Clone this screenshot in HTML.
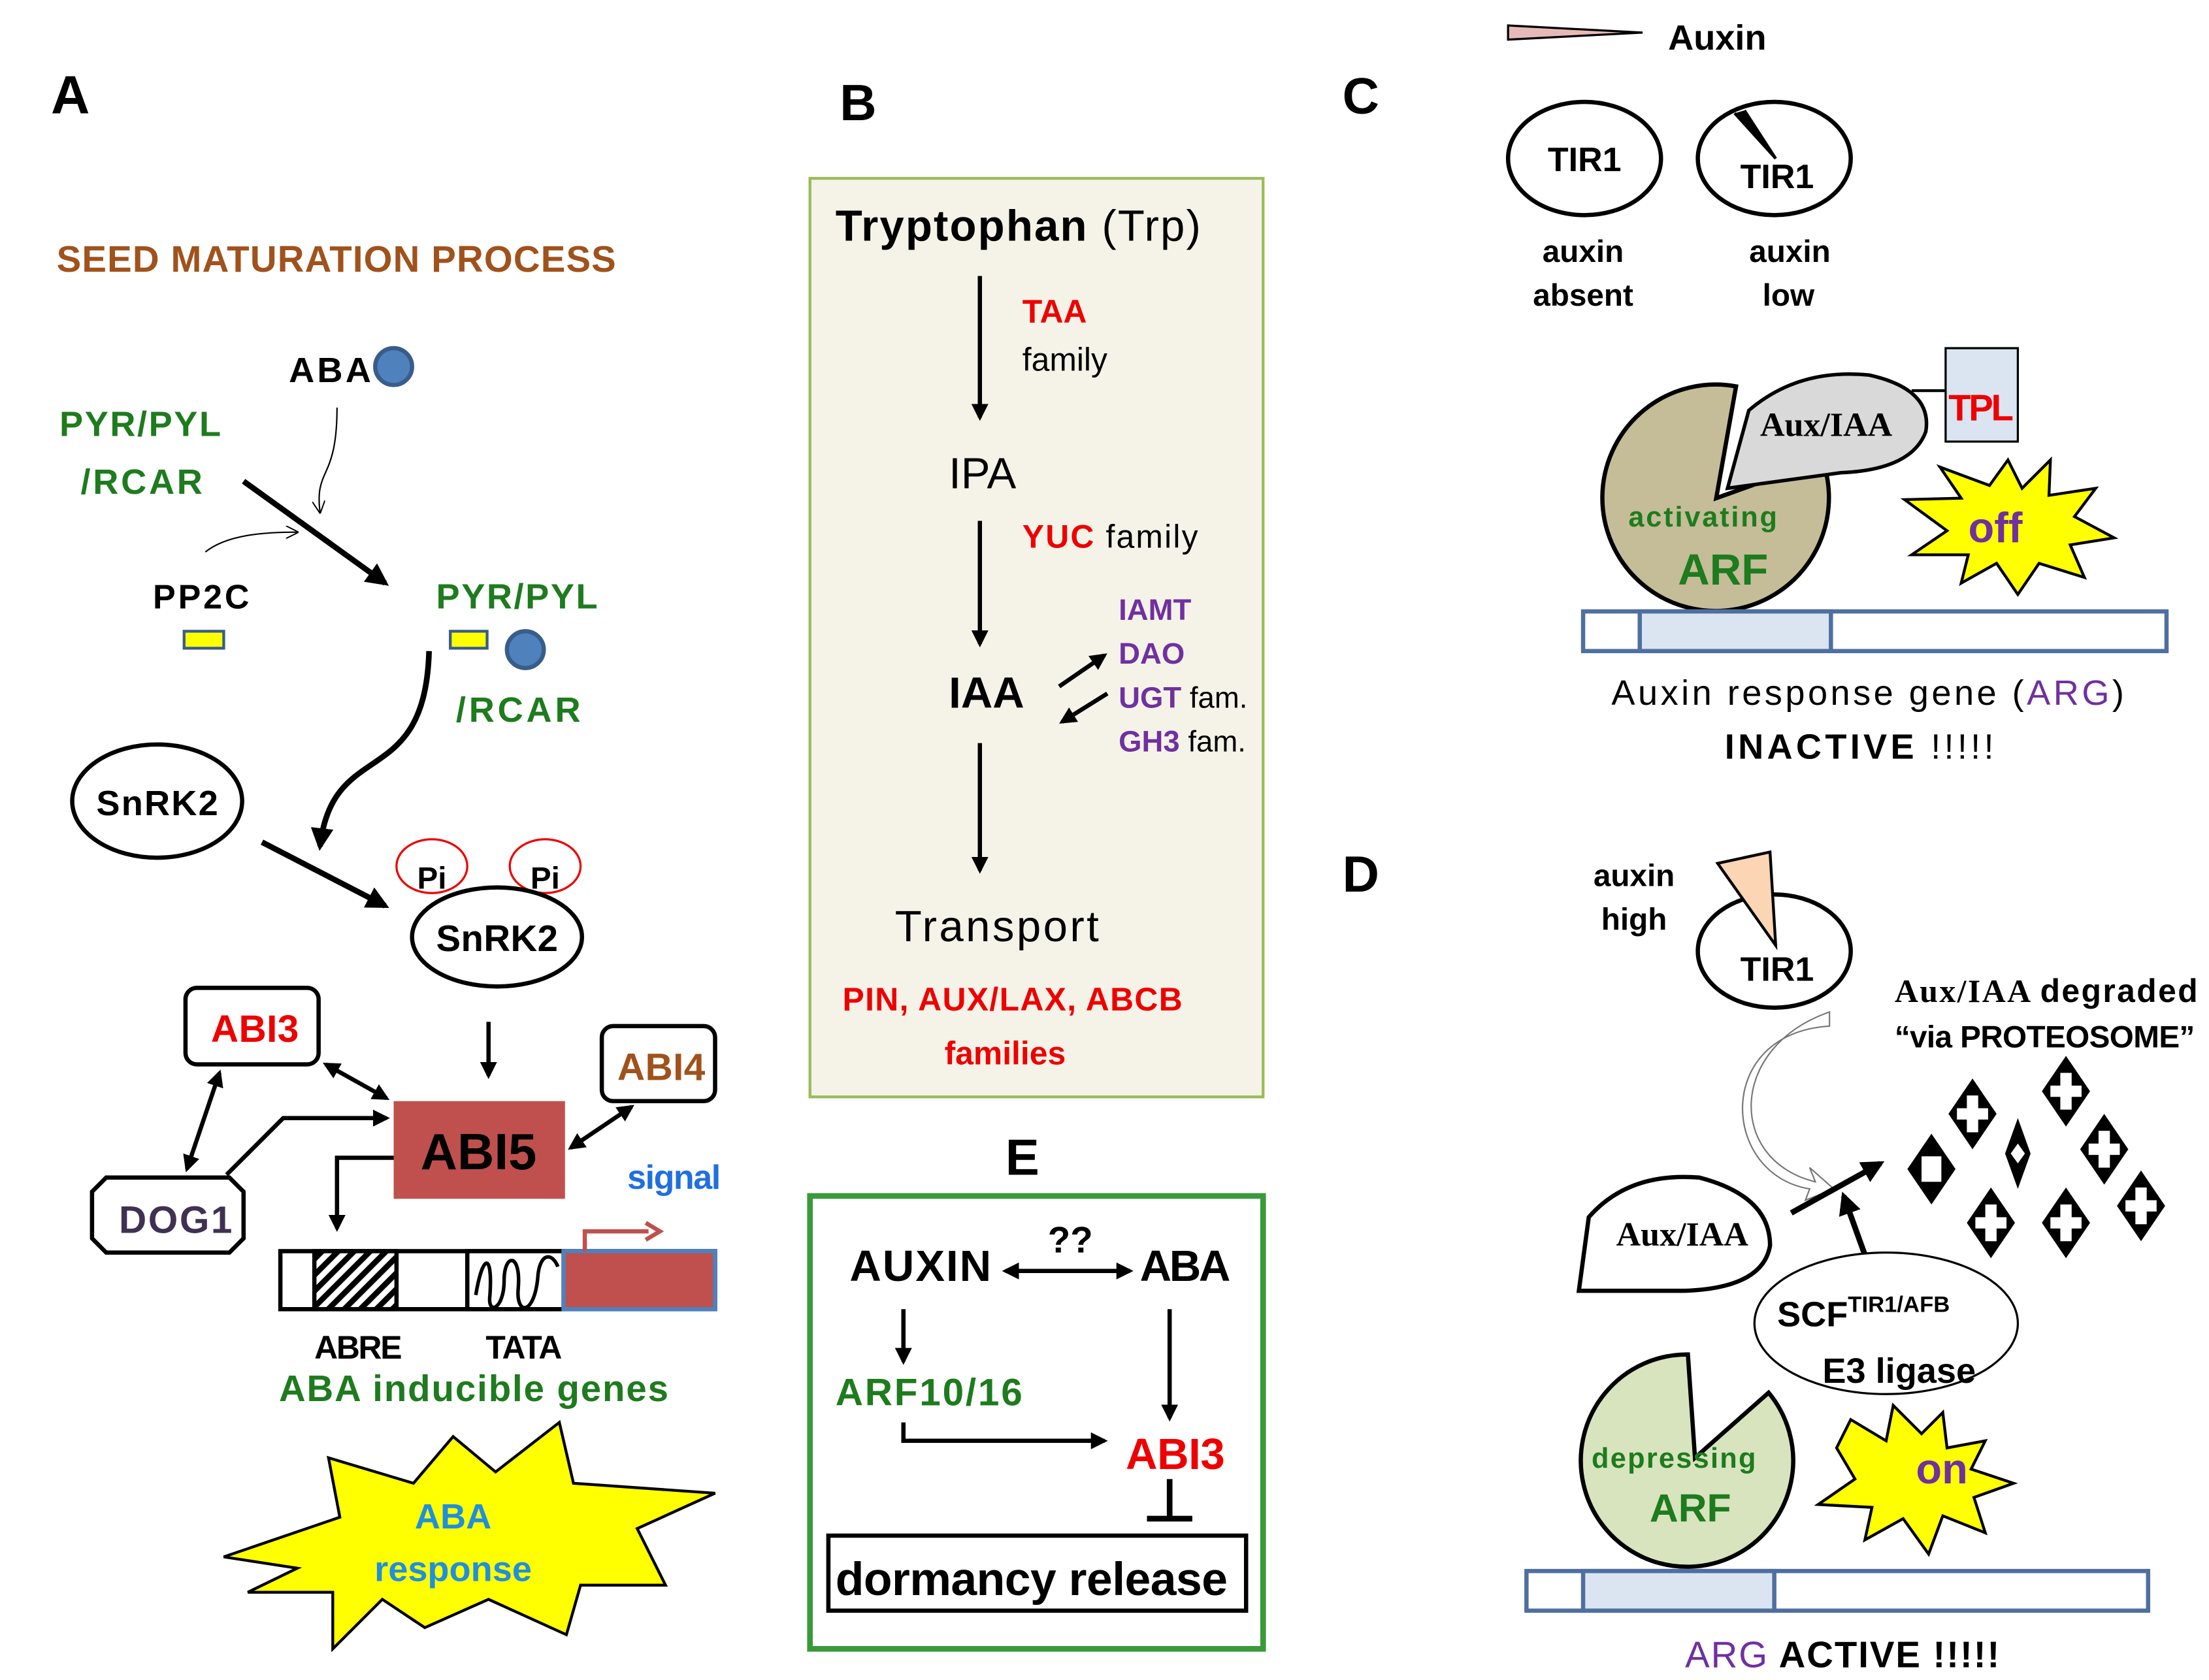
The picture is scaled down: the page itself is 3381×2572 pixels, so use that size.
<!DOCTYPE html>
<html><head><meta charset="utf-8"><style>
html,body{margin:0;padding:0;background:#fff}
svg{display:block}
text{font-family:"Liberation Sans",sans-serif}
.s{font-family:"Liberation Serif",serif;font-weight:bold}
.b{font-weight:bold}
</style></head><body>
<svg width="3381" height="2572" viewBox="0 0 1560 1187" preserveAspectRatio="none" xmlns="http://www.w3.org/2000/svg">
<defs>
<marker id="ah" viewBox="0 0 10 10" refX="8" refY="5" markerWidth="4" markerHeight="4" orient="auto-start-reverse"><path d="M0,0L10,5L0,10Z" fill="#000"/></marker>
<marker id="ao" viewBox="0 0 10 10" refX="9" refY="5" markerWidth="9" markerHeight="9" orient="auto"><path d="M0,0L10,5L0,10" fill="none" stroke="#000" stroke-width="1"/></marker>
<g id="dm"><path d="M0,-25L17,0L0,25L-17,0Z" fill="#000"/><path d="M-4,-13H4V-4H11V4H4V13H-4V4H-11V-4H-4Z" fill="#fff"/></g>
<pattern id="hat" width="8" height="8" patternUnits="userSpaceOnUse" patternTransform="rotate(45)"><rect width="8" height="8" fill="#fff"/><rect width="4" height="8" fill="#000"/></pattern>
</defs>
<rect width="1560" height="1187" fill="#fff"/>

<!-- Panel A -->
<text x="36" y="80" font-size="38" font-weight="bold">A</text>
<text x="40" y="192" font-size="26" font-weight="bold" fill="#a0521c" textLength="395">SEED MATURATION PROCESS</text>
<text x="204" y="270" font-size="25" class="b" textLength="58">ABA</text>
<circle cx="278" cy="259" r="13" fill="#4f81bd" stroke="#385d8a" stroke-width="3"/>
<text x="42" y="308" font-size="25" fill="#1e7b1e" class="b" textLength="114">PYR/PYL</text>
<text x="57" y="349" font-size="25" fill="#1e7b1e" class="b" textLength="86">/RCAR</text>
<path d="M238,288 C238,340 222,330 226,362" fill="none" stroke="#000" stroke-width="1" marker-end="url(#ao)"/>
<path d="M145,390 C160,378 185,376 210,376" fill="none" stroke="#000" stroke-width="1" marker-end="url(#ao)"/>
<line x1="172" y1="340" x2="272" y2="412" stroke="#000" stroke-width="4" marker-end="url(#ah)"/>
<text x="108" y="430" font-size="24" class="b" textLength="68">PP2C</text>
<rect x="130" y="446" width="28" height="12" fill="#ffff00" stroke="#385d8a" stroke-width="2"/>
<text x="308" y="430" font-size="25" fill="#1e7b1e" class="b" textLength="114">PYR/PYL</text>
<rect x="318" y="446" width="26" height="12" fill="#ffff00" stroke="#385d8a" stroke-width="2"/>
<circle cx="371" cy="459" r="13" fill="#4f81bd" stroke="#385d8a" stroke-width="3"/>
<text x="322" y="510" font-size="25" fill="#1e7b1e" class="b" textLength="88">/RCAR</text>
<path d="M303,460 C300,560 235,520 226,598" fill="none" stroke="#000" stroke-width="4" marker-end="url(#ah)"/>
<ellipse cx="111" cy="566" rx="60" ry="40" fill="#fff" stroke="#000" stroke-width="3"/>
<text x="111" y="576" font-size="25" text-anchor="middle" class="b" textLength="86">SnRK2</text>
<line x1="185" y1="595" x2="272" y2="640" stroke="#000" stroke-width="4" marker-end="url(#ah)"/>
<ellipse cx="305" cy="612" rx="25" ry="19" fill="none" stroke="#e00" stroke-width="1.5"/>
<ellipse cx="385" cy="612" rx="25" ry="19" fill="none" stroke="#e00" stroke-width="1.5"/>
<text x="305" y="628" font-size="22" text-anchor="middle" class="b">Pi</text>
<text x="385" y="628" font-size="22" text-anchor="middle" class="b">Pi</text>
<ellipse cx="351" cy="662" rx="60" ry="35" fill="#fff" stroke="#000" stroke-width="3"/>
<text x="351" y="672" font-size="26" text-anchor="middle" class="b" textLength="86">SnRK2</text>
<line x1="345" y1="722" x2="345" y2="760" stroke="#000" stroke-width="3" marker-end="url(#ah)"/>
<rect x="131" y="698" width="94" height="54" rx="8" fill="#fff" stroke="#000" stroke-width="3"/>
<text x="180" y="736" font-size="27" fill="#e00" text-anchor="middle" class="b" textLength="62">ABI3</text>
<rect x="425" y="725" width="80" height="53" rx="8" fill="#fff" stroke="#000" stroke-width="3"/>
<text x="467" y="763" font-size="27" fill="#a0521c" text-anchor="middle" class="b" textLength="62">ABI4</text>
<rect x="278" y="778" width="121" height="69" fill="#c0504d"/>
<text x="338" y="826" font-size="36" text-anchor="middle" class="b" textLength="82">ABI5</text>
<path d="M75,832 H162 L172,842 V875 L162,885 H75 L65,875 V842 Z" fill="#fff" stroke="#000" stroke-width="3"/>
<text x="124" y="871" font-size="27" fill="#403152" text-anchor="middle" class="b" textLength="80">DOG1</text>
<line x1="230" y1="752" x2="273" y2="776" stroke="#000" stroke-width="3" marker-start="url(#ah)" marker-end="url(#ah)"/>
<line x1="155" y1="758" x2="132" y2="826" stroke="#000" stroke-width="3" marker-start="url(#ah)" marker-end="url(#ah)"/>
<path d="M160,830 L200,790 H273" fill="none" stroke="#000" stroke-width="3" marker-end="url(#ah)"/>
<line x1="446" y1="782" x2="403" y2="811" stroke="#000" stroke-width="3" marker-start="url(#ah)" marker-end="url(#ah)"/>
<path d="M278,818 H238 V868" fill="none" stroke="#000" stroke-width="3" marker-end="url(#ah)"/>
<text x="443" y="840" font-size="24" fill="#1f6fe0" class="b" textLength="66">signal</text>
<rect x="198" y="884" width="307" height="41" fill="#fff" stroke="#000" stroke-width="3"/>
<rect x="222" y="884" width="58" height="41" fill="url(#hat)" stroke="#000" stroke-width="3"/>
<rect x="330" y="884" width="68" height="41" fill="#fff" stroke="#000" stroke-width="3"/>
<path d="M336,915 c5,-30 12,-30 10,0 c-2,15 10,10 10,-10 c0,-20 12,-20 10,5 c-2,20 12,20 14,-10 c2,-15 10,-15 14,-5" fill="none" stroke="#000" stroke-width="2.5"/>
<rect x="398" y="884" width="107" height="41" fill="#c0504d" stroke="#4f81bd" stroke-width="3"/>
<path d="M413,884 V870 H458" fill="none" stroke="#c0504d" stroke-width="3"/>
<path d="M456,864 L466,870 L456,876" fill="none" stroke="#c0504d" stroke-width="3"/>
<text x="222" y="960" font-size="23" class="b" textLength="62">ABRE</text>
<text x="343" y="960" font-size="23" class="b" textLength="54">TATA</text>
<text x="197" y="990" font-size="26" fill="#1e7b1e" class="b" textLength="275">ABA inducible genes</text>
<polygon points="158,1100 240,1072 232,1030 292,1048 320,1015 350,1040 395,1005 405,1048 505,1055 450,1080 470,1120 410,1120 400,1155 345,1130 300,1150 270,1130 235,1165 235,1125 175,1125 210,1108" fill="#ffff00" stroke="#000" stroke-width="2"/>
<text x="320" y="1080" font-size="25" fill="#1f8fdf" text-anchor="middle" class="b">ABA</text>
<text x="320" y="1117" font-size="25" fill="#1f8fdf" text-anchor="middle" class="b">response</text>

<!-- Panel B -->
<text x="593" y="85" font-size="36" font-weight="bold">B</text>
<rect x="572" y="126" width="320" height="649" fill="#f5f3e8" stroke="#9bbb59" stroke-width="2"/>
<text x="590" y="170" font-size="31" textLength="258"><tspan font-weight="bold">Tryptophan</tspan> (Trp)</text>
<line x1="692" y1="195" x2="692" y2="295" stroke="#000" stroke-width="3" marker-end="url(#ah)"/>
<text x="722" y="228" font-size="23" fill="#e00" class="b">TAA</text>
<text x="722" y="262" font-size="23">family</text>
<text x="670" y="345" font-size="31">IPA</text>
<line x1="692" y1="368" x2="692" y2="455" stroke="#000" stroke-width="3" marker-end="url(#ah)"/>
<text x="722" y="387" font-size="23" textLength="124"><tspan fill="#e00" font-weight="bold">YUC</tspan> family</text>
<text x="670" y="500" font-size="31" font-weight="bold">IAA</text>
<line x1="748" y1="485" x2="780" y2="463" stroke="#000" stroke-width="3" marker-end="url(#ah)"/>
<line x1="782" y1="490" x2="750" y2="510" stroke="#000" stroke-width="3" marker-end="url(#ah)"/>
<text x="790" y="438" font-size="21" fill="#7030a0" class="b">IAMT</text>
<text x="790" y="469" font-size="21" fill="#7030a0" class="b">DAO</text>
<text x="790" y="500" font-size="21" fill="#7030a0" class="b">UGT <tspan fill="#000" font-weight="normal">fam.</tspan></text>
<text x="790" y="531" font-size="21" fill="#7030a0" class="b">GH3 <tspan fill="#000" font-weight="normal">fam.</tspan></text>
<line x1="692" y1="525" x2="692" y2="615" stroke="#000" stroke-width="3" marker-end="url(#ah)"/>
<text x="632" y="665" font-size="31" textLength="144">Transport</text>
<text x="595" y="714" font-size="23" fill="#e00" font-weight="bold" textLength="240">PIN, AUX/LAX, ABCB</text>
<text x="667" y="752" font-size="23" fill="#e00" font-weight="bold">families</text>

<!-- Panel E -->
<text x="710" y="830" font-size="36" font-weight="bold">E</text>
<rect x="572" y="845" width="320" height="320" fill="#fff" stroke="#3a9a3a" stroke-width="4"/>
<text x="600" y="905" font-size="31" class="b" textLength="100">AUXIN</text>
<text x="805" y="905" font-size="31" class="b" textLength="64">ABA</text>
<text x="740" y="885" font-size="26" font-weight="bold">??</text>
<line x1="710" y1="898" x2="798" y2="898" stroke="#000" stroke-width="3" marker-start="url(#ah)" marker-end="url(#ah)"/>
<line x1="638" y1="925" x2="638" y2="962" stroke="#000" stroke-width="3" marker-end="url(#ah)"/>
<text x="590" y="993" font-size="27" fill="#1e7b1e" class="b" textLength="132">ARF10/16</text>
<path d="M638,1005 V1018 H780" fill="none" stroke="#000" stroke-width="3" marker-end="url(#ah)"/>
<line x1="826" y1="925" x2="826" y2="1002" stroke="#000" stroke-width="3" marker-end="url(#ah)"/>
<text x="795" y="1038" font-size="31" fill="#e00" class="b" textLength="70">ABI3</text>
<line x1="826" y1="1045" x2="826" y2="1073" stroke="#000" stroke-width="4"/>
<line x1="810" y1="1073" x2="842" y2="1073" stroke="#000" stroke-width="4"/>
<rect x="585" y="1085" width="295" height="53" fill="#fff" stroke="#000" stroke-width="3"/>
<text x="590" y="1127" font-size="33" class="b" textLength="277">dormancy release</text>

<!-- Panel C -->
<text x="948" y="80" font-size="36" font-weight="bold">C</text>
<polygon points="1065,18 1065,28 1160,23" fill="#e6b9b8" stroke="#000" stroke-width="1.5"/>
<text x="1178" y="35" font-size="25" class="b">Auxin</text>
<ellipse cx="1119" cy="112" rx="54" ry="40" fill="#fff" stroke="#000" stroke-width="3"/>
<text x="1119" y="121" font-size="24" text-anchor="middle" class="b">TIR1</text>
<text x="1118" y="185" font-size="22" text-anchor="middle" class="b">auxin</text>
<text x="1118" y="216" font-size="22" text-anchor="middle" class="b">absent</text>
<ellipse cx="1253" cy="112" rx="54" ry="40" fill="#fff" stroke="#000" stroke-width="3"/>
<path d="M1225,80 L1254,112 L1232,78" fill="#000" stroke="#000" stroke-width="2"/>
<text x="1255" y="133" font-size="24" text-anchor="middle" class="b">TIR1</text>
<text x="1264" y="185" font-size="22" text-anchor="middle" class="b">auxin</text>
<text x="1263" y="216" font-size="22" text-anchor="middle" class="b">low</text>
<rect x="1374" y="246" width="51" height="66" fill="#dbe5f1" stroke="#000" stroke-width="1.5"/>
<line x1="1350" y1="276" x2="1374" y2="276" stroke="#000" stroke-width="2"/>
<text x="1376" y="297" font-size="26" fill="#e00" class="b" textLength="46">TPL</text>
<path d="M1212,352 L1287,325 A80 80 0 1 1 1226,273 Z" fill="#c4bd97" stroke="#000" stroke-width="3"/>
<path d="M1220,345 L1235,290 Q1270,260 1320,265 Q1365,275 1360,305 Q1350,332 1300,334 Z" fill="#d9d9d9" stroke="#000" stroke-width="2.5"/>
<text x="1243" y="308" font-size="24" class="s">Aux/IAA</text>
<text x="1150" y="372" font-size="20" fill="#1e7b1e" font-weight="bold" textLength="105">activating</text>
<text x="1185" y="413" font-size="31" fill="#1e7b1e" font-weight="bold">ARF</text>
<polygon points="1345,353 1385,352 1370,330 1405,343 1418,325 1428,345 1448,325 1447,350 1480,345 1465,365 1493,380 1462,385 1472,408 1440,398 1425,420 1410,398 1385,412 1390,392 1350,392 1375,375" fill="#ffff00" stroke="#000" stroke-width="2"/>
<text x="1390" y="383" font-size="30" fill="#7030a0" font-weight="bold">off</text>
<rect x="1118" y="432" width="412" height="28" fill="#fff" stroke="#4f6fa0" stroke-width="3"/>
<rect x="1158" y="432" width="135" height="28" fill="#dbe5f1" stroke="#4f6fa0" stroke-width="3"/>
<text x="1138" y="498" font-size="25" textLength="362">Auxin response gene (<tspan fill="#7030a0">ARG</tspan>)</text>
<text x="1218" y="536" font-size="25" font-weight="bold" textLength="190">INACTIVE <tspan font-weight="normal">!!!!!</tspan></text>

<!-- Panel D -->
<text x="948" y="630" font-size="36" font-weight="bold">D</text>
<text x="1154" y="626" font-size="22" text-anchor="middle" class="b">auxin</text>
<text x="1154" y="657" font-size="22" text-anchor="middle" class="b">high</text>
<ellipse cx="1253" cy="672" rx="54" ry="40" fill="#fff" stroke="#000" stroke-width="3"/>
<polygon points="1213,610 1250,602 1254,668" fill="#fcd5b4" stroke="#000" stroke-width="2"/>
<text x="1255" y="693" font-size="24" text-anchor="middle" class="b">TIR1</text>
<text x="1338" y="708" font-size="23" class="s" textLength="214">Aux/IAA <tspan font-family="Liberation Sans">degraded</tspan></text>
<text x="1338" y="740" font-size="22" font-weight="bold" textLength="212">“via PROTEOSOME”</text>
<path d="M1292,715 C1220,740 1220,820 1282,835 L1278,825 L1295,840 L1275,848 L1278,840 C1215,830 1210,730 1292,725 Z" fill="#fff" stroke="#777" stroke-width="1"/>
<line x1="1265" y1="857" x2="1328" y2="822" stroke="#000" stroke-width="4" marker-end="url(#ah)"/>
<line x1="1320" y1="895" x2="1302" y2="845" stroke="#000" stroke-width="4" marker-end="url(#ah)"/>
<use href="#dm" x="1393" y="787"/>
<use href="#dm" x="1459" y="771"/>
<use href="#dm" x="1486" y="812"/>
<use href="#dm" x="1406" y="864"/>
<use href="#dm" x="1459" y="864"/>
<use href="#dm" x="1512" y="852"/>
<path d="M1364,801 L1381,826 L1364,851 L1347,826Z" fill="#000"/>
<rect x="1357" y="817" width="14" height="18" fill="#fff"/>
<path d="M1425,790 L1434,815 L1425,840 L1416,815Z" fill="#000"/>
<path d="M1425,808 L1430,815 L1425,822 L1420,815Z" fill="#fff"/>
<path d="M1115,912 L1122,860 Q1150,828 1200,832 Q1250,845 1250,880 Q1245,910 1190,912 Z" fill="#fff" stroke="#000" stroke-width="3"/>
<text x="1188" y="880" font-size="24" class="s" text-anchor="middle">Aux/IAA</text>
<ellipse cx="1332" cy="935" rx="93" ry="50" fill="#fff" stroke="#000" stroke-width="1.5"/>
<text x="1255" y="937" font-size="25" class="b">SCF<tspan font-size="16" dy="-10">TIR1/AFB</tspan></text>
<text x="1287" y="977" font-size="25" class="b">E3 ligase</text>
<path d="M1197,1030 L1249,984 A75 75 0 1 1 1192,957 Z" fill="#d7e4bd" stroke="#000" stroke-width="3"/>
<text x="1124" y="1037" font-size="20" fill="#1e7b1e" font-weight="bold" textLength="116">depressing</text>
<text x="1165" y="1075" font-size="28" fill="#1e7b1e" font-weight="bold">ARF</text>
<polygon transform="translate(-68,673)" points="1375,330 1400,345 1405,320 1425,340 1440,325 1443,350 1470,345 1460,365 1490,375 1462,385 1470,410 1440,398 1430,425 1412,400 1385,415 1390,392 1352,390 1378,372 1365,350" fill="#ffff00" stroke="#000" stroke-width="2"/>
<text x="1353" y="1048" font-size="30" fill="#7030a0" font-weight="bold">on</text>
<rect x="1078" y="1110" width="439" height="28" fill="#fff" stroke="#4f6fa0" stroke-width="3"/>
<rect x="1118" y="1110" width="135" height="28" fill="#dbe5f1" stroke="#4f6fa0" stroke-width="3"/>
<text x="1190" y="1178" font-size="26" font-weight="bold" textLength="222"><tspan fill="#7030a0" font-weight="normal">ARG</tspan> ACTIVE !!!!!</text>
</svg>
</body></html>
